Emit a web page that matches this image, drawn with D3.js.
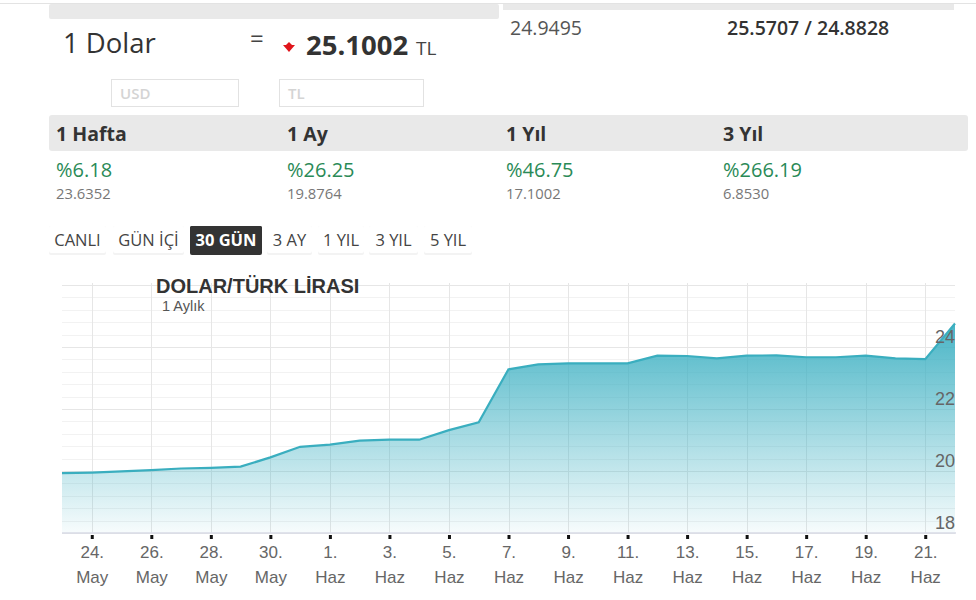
<!DOCTYPE html>
<html>
<head>
<meta charset="utf-8">
<script src="https://cdn.jsdelivr.net/npm/d3@7"></script>
<style>
  body { margin: 0; background: #fff; }
  svg { display: block; }
  .page { font-family: "Open Sans", sans-serif; }
  .chartText { font-family: "Liberation Sans", Arial, sans-serif; }
</style>
</head>
<body>
<div id="chart"></div>
<script>
// daily USD/TRY closes, 23 May - 22 Jun
var dates = ["2023-05-23","2023-05-24","2023-05-25","2023-05-26","2023-05-27","2023-05-28","2023-05-29",
  "2023-05-30","2023-05-31","2023-06-01","2023-06-02","2023-06-03","2023-06-04","2023-06-05","2023-06-06",
  "2023-06-07","2023-06-08","2023-06-09","2023-06-10","2023-06-11","2023-06-12","2023-06-13","2023-06-14",
  "2023-06-15","2023-06-16","2023-06-17","2023-06-18","2023-06-19","2023-06-20","2023-06-21","2023-06-22"];
var rates = [19.93, 19.95, 19.99, 20.03, 20.08, 20.10, 20.14,
  20.44, 20.78, 20.85, 20.98, 21.01, 21.01, 21.32, 21.57,
  23.28, 23.44, 23.47, 23.47, 23.47, 23.72, 23.71, 23.63,
  23.72, 23.73, 23.67, 23.67, 23.72, 23.63, 23.61, 24.76];

var yTicks = [18, 20, 22, 24];
var monthNames = ["Oca", "Şub", "Mar", "Nis", "May", "Haz", "Tem", "Ağu", "Eyl", "Eki", "Kas", "Ara"];

var periods = ["1 Hafta", "1 Ay", "1 Yıl", "3 Yıl"];
var changes = ["%6.18", "%26.25", "%46.75", "%266.19"];
var pastRates = ["23.6352", "19.8764", "17.1002", "6.8530"];
var tabs = ["CANLI", "GÜN İÇİ", "30 GÜN", "3 AY", "1 YIL", "3 YIL", "5 YIL"];
var activeTab = "30 GÜN";

var svgWidth = 976;
var svgHeight = 600;

var svg = d3.select("#chart")
  .append("svg")
  .attr("width", svgWidth)
  .attr("height", svgHeight);

var page = svg.append("g").attr("class", "page");

// top header strips
page.append("line").attr("x1", 0).attr("x2", 976).attr("y1", 3.5).attr("y2", 3.5)
  .attr("stroke", "#e3e3e3");
page.append("rect").attr("x", 49).attr("y", 4).attr("width", 450).attr("height", 15)
  .attr("rx", 2).attr("fill", "#e9e9e9");
page.append("rect").attr("x", 503).attr("y", 4).attr("width", 451).attr("height", 6)
  .attr("fill", "#e9e9e9");

page.append("text").attr("x", 63).attr("y", 53).attr("font-size", 27.5).attr("fill", "#333")
  .text("1 Dolar");
page.append("text").attr("x", 250).attr("y", 47).attr("font-size", 24).attr("fill", "#444")
  .text("=");
page.append("path").attr("d", "M283,45 L295,45 L289,52 Z").attr("fill", "#e0151b");
page.append("path").attr("d", "M286,45 L289,42 L292,45 Z").attr("fill", "#e0151b");
page.append("text").attr("x", 306).attr("y", 55).attr("font-size", 27.5).attr("font-weight", "bold")
  .attr("fill", "#333").text("25.1002");
page.append("text").attr("x", 416).attr("y", 55).attr("font-size", 19).attr("fill", "#444")
  .text("TL");

// input boxes
page.append("rect").attr("x", 111.5).attr("y", 79.5).attr("width", 127).attr("height", 27)
  .attr("fill", "#fff").attr("stroke", "#e2e2e2");
page.append("text").attr("x", 120).attr("y", 99).attr("font-size", 15).attr("font-weight", 600)
  .attr("fill", "#d4d4d4").text("USD");
page.append("rect").attr("x", 279.5).attr("y", 79.5).attr("width", 144).attr("height", 27)
  .attr("fill", "#fff").attr("stroke", "#e2e2e2");
page.append("text").attr("x", 288).attr("y", 99).attr("font-size", 15).attr("font-weight", 600)
  .attr("fill", "#d4d4d4").text("TL");

page.append("text").attr("x", 510).attr("y", 35).attr("font-size", 19.5).attr("fill", "#555")
  .text("24.9495");
page.append("text").attr("x", 727).attr("y", 35).attr("font-size", 19.5).attr("font-weight", 600)
  .attr("fill", "#333").text("25.5707 / 24.8828");

// period change table
var colX = [56, 287, 506, 723];
page.append("rect").attr("x", 49).attr("y", 115).attr("width", 919).attr("height", 36)
  .attr("rx", 3).attr("fill", "#e9e9e9");
page.selectAll(".period").data(periods).enter().append("text")
  .attr("x", (d, i) => colX[i]).attr("y", 141).attr("font-size", 19.5).attr("font-weight", "bold")
  .attr("fill", "#333").text(d => d);
page.selectAll(".change").data(changes).enter().append("text")
  .attr("x", (d, i) => colX[i]).attr("y", 177).attr("font-size", 20).attr("fill", "#2a8a57")
  .text(d => d);
page.selectAll(".past").data(pastRates).enter().append("text")
  .attr("x", (d, i) => colX[i]).attr("y", 199).attr("font-size", 14.8).attr("fill", "#777")
  .text(d => d);

// range tabs
var tabX = [49, 113, 190, 267, 318, 369, 424];
var tabW = [57, 71, 72, 45, 46, 49, 48];
var tabG = page.selectAll(".tab").data(tabs).enter().append("g")
  .attr("transform", (d, i) => `translate(${tabX[i]}, 226)`);
tabG.append("rect").attr("width", (d, i) => tabW[i]).attr("height", 29).attr("rx", 2)
  .attr("fill", d => d == activeTab ? "#333" : "#f3f3f3");
tabG.append("rect").attr("width", (d, i) => tabW[i]).attr("height", 27).attr("rx", 2)
  .attr("fill", d => d == activeTab ? "#333" : "#fff");
tabG.append("text").attr("x", (d, i) => tabW[i] / 2).attr("y", 20).attr("text-anchor", "middle")
  .attr("font-size", 16.5)
  .attr("font-weight", d => d == activeTab ? "bold" : "normal")
  .attr("fill", d => d == activeTab ? "#fff" : "#444")
  .text(d => d);

// chart
var parseDate = d3.timeParse("%Y-%m-%d");
var data = dates.map((d, i) => ({ date: parseDate(d), rate: rates[i] }));

var plot = { left: 62, right: 955, top: 285, bottom: 533 };

var xScale = d3.scaleTime()
  .domain(d3.extent(data, d => d.date))
  .range([plot.left, plot.right]);

var yScale = d3.scaleLinear()
  .domain([18, 26])
  .range([plot.bottom, plot.top]);

var chartGroup = svg.append("g").attr("class", "chartText");

var xTickDates = d3.timeDay.range(parseDate("2023-05-24"), parseDate("2023-06-22"), 2);

// minor + major horizontal grid
chartGroup.selectAll(".minor").data(d3.range(18.4, 26.01, 0.4)).enter().append("line")
  .attr("x1", plot.left).attr("x2", plot.right)
  .attr("y1", d => Math.round(yScale(d)) + 0.5).attr("y2", d => Math.round(yScale(d)) + 0.5)
  .attr("stroke", "#f2f2f2");
chartGroup.selectAll(".major").data(yTicks.concat([26])).enter().append("line")
  .attr("x1", plot.left).attr("x2", plot.right)
  .attr("y1", d => Math.round(yScale(d)) + 0.5).attr("y2", d => Math.round(yScale(d)) + 0.5)
  .attr("stroke", "#e6e6e6");
chartGroup.selectAll(".vgrid").data(xTickDates).enter().append("line")
  .attr("x1", d => Math.round(xScale(d)) + 0.5).attr("x2", d => Math.round(xScale(d)) + 0.5)
  .attr("y1", plot.top - 2).attr("y2", plot.bottom)
  .attr("stroke", "#e6e6e6");

// area gradient
var defs = svg.append("defs");
var grad = defs.append("linearGradient").attr("id", "areaFill")
  .attr("gradientUnits", "userSpaceOnUse")
  .attr("x1", 0).attr("x2", 0).attr("y1", yScale(d3.max(rates))).attr("y2", plot.bottom);
grad.append("stop").attr("offset", "0%").attr("stop-color", "#3fb1c3").attr("stop-opacity", 0.95);
grad.append("stop").attr("offset", "100%").attr("stop-color", "#3fb1c3").attr("stop-opacity", 0.04);

var area = d3.area()
  .x(d => xScale(d.date))
  .y0(plot.bottom)
  .y1(d => yScale(d.rate));

var line = d3.line()
  .x(d => xScale(d.date))
  .y(d => yScale(d.rate));

chartGroup.append("path").datum(data).attr("d", area).attr("fill", "url(#areaFill)");
chartGroup.append("path").datum(data).attr("d", line)
  .attr("fill", "none").attr("stroke", "#3aaebf").attr("stroke-width", 2.2);

// x axis
var bottomAxis = d3.axisBottom(xScale)
  .tickValues(xTickDates)
  .tickSize(6)
  .tickFormat("");

var xAxisG = chartGroup.append("g")
  .attr("transform", `translate(0, ${plot.bottom})`)
  .call(bottomAxis)
  .attr("font-family", "Liberation Sans, Arial, sans-serif");
xAxisG.select(".domain").attr("stroke", "#d8dbe6").attr("stroke-width", 1.5).attr("d", `M${plot.left},0H${plot.right + 1}`);
xAxisG.selectAll(".tick line").attr("y1", 2).attr("stroke", "#111").attr("stroke-width", 3);
var xLabel = xAxisG.selectAll(".tick").append("text")
  .attr("fill", "#666").attr("font-size", 17).attr("text-anchor", "middle");
xLabel.append("tspan").attr("x", 0).attr("y", 25).text(d => d.getDate() + ".");
xLabel.append("tspan").attr("x", 0).attr("y", 50).text(d => monthNames[d.getMonth()]);

// y axis, labels on the right above each gridline
var rightAxis = d3.axisLeft(yScale)
  .tickValues(yTicks)
  .tickSize(0)
  .tickPadding(0);
var yAxisG = chartGroup.append("g")
  .attr("transform", `translate(${plot.right}, 0)`)
  .call(rightAxis)
  .attr("font-family", "Liberation Sans, Arial, sans-serif");
yAxisG.select(".domain").remove();
yAxisG.selectAll("text").attr("fill", "#666").attr("font-size", 18).attr("dy", "-0.25em");

// titles
chartGroup.append("text").attr("x", 156).attr("y", 293).attr("font-size", 20)
  .attr("font-weight", "bold").attr("fill", "#333").text("DOLAR/TÜRK LİRASI");
chartGroup.append("text").attr("x", 162).attr("y", 311).attr("font-size", 14.5)
  .attr("fill", "#555").text("1 Aylık");
</script>
</body>
</html>
